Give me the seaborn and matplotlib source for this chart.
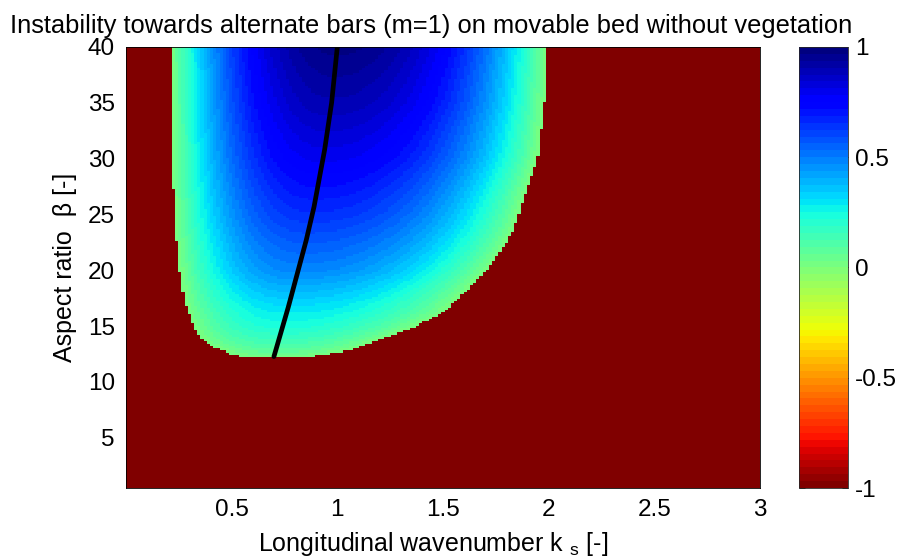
import numpy as np
import matplotlib
matplotlib.use("Agg")
import matplotlib.pyplot as plt
import seaborn as sns

# boundaries of the unstable region (beta -> k)
left_beta = [12.27, 12.45, 13.1, 13.6, 14.7, 17.1, 20.05, 24.5, 30.2, 40.0]
left_k = [0.54, 0.50, 0.42, 0.372, 0.325, 0.278, 0.254, 0.23, 0.22, 0.216]

right_beta = [12.27, 12.65, 13.0, 13.6, 14.7, 16.2, 18.3, 20.3, 22.1, 23.9, 26.3, 30.2, 35.0, 40.0]
right_k = [0.88, 1.0, 1.09, 1.18, 1.34, 1.50, 1.62, 1.72, 1.79, 1.84, 1.88, 1.95, 1.98, 1.99]

# line of maximum growth (black curve)
ridge_beta = [12.27, 13.7, 16.7, 19.8, 22.7, 25.7, 30.8, 35.0, 40.0]
ridge_k = [0.70, 0.722, 0.768, 0.812, 0.853, 0.89, 0.94, 0.973, 1.0]

# normalised growth rate on the ridge
peak_beta = [12.27, 13.0, 14.0, 15.0, 17.0, 20.0, 25.0, 30.0, 35.0, 40.0]
peak_val = [0.02, 0.10, 0.17, 0.23, 0.32, 0.48, 0.65, 0.79, 0.90, 0.98]

beta_min = 12.27
stable_val = -1.0

k = np.linspace(0.0, 3.0, 201)
beta = np.linspace(0.5, 40.0, 198)
K, B = np.meshgrid(k, beta)

kl = np.interp(B, left_beta, left_k)
kr = np.interp(B, right_beta, right_k)
kc = np.interp(B, ridge_beta, ridge_k)
pk = np.interp(B, peak_beta, peak_val)

t = np.where(K < kc, (kc - K) / (kc - kl), (K - kc) / (kr - kc))
Z = pk * (1 - np.clip(t, 0, 1) ** 2.2)
Z[(B < beta_min) | (K < kl) | (K > kr)] = stable_val

sns.set_style("white")
plt.rcParams["font.family"] = ["Liberation Sans", "DejaVu Sans"]
plt.rcParams["mathtext.fontset"] = "custom"
plt.rcParams["mathtext.rm"] = "Liberation Sans"
for key in ["text.color", "axes.labelcolor", "xtick.color", "ytick.color"]:
    plt.rcParams[key] = "black"

fig = plt.figure(figsize=(8.98, 5.59), dpi=100)
ax = fig.add_axes([0.1403, 0.127, 0.706, 0.789])
cax = fig.add_axes([0.8898, 0.127, 0.0546, 0.789])

cmap = plt.get_cmap("jet_r", 64)
mesh = ax.pcolormesh(k, beta, Z, cmap=cmap, vmin=-1, vmax=1, shading="nearest")
sns.lineplot(x=ridge_k, y=ridge_beta, orient="y", color="black", lw=3.4, ax=ax)

ax.set_xlim(0.0, 3.0)
ax.set_ylim(0.5, 40.0)
ax.set_xticks([0.5, 1, 1.5, 2, 2.5, 3])
ax.set_xticklabels(["0.5", "1", "1.5", "2", "2.5", "3"])
ax.set_yticks([5, 10, 15, 20, 25, 30, 35, 40])
ax.tick_params(length=0, labelsize=17.5, pad=8)
for s in ax.spines.values():
    s.set_linewidth(0.6)
    s.set_color("black")

ax.set_title("Instability towards alternate bars (m=1) on movable bed without vegetation",
             fontsize=18.4, pad=10, x=0.482)
ax.set_xlabel("Longitudinal wavenumber k $_{\\mathregular{s}}$ [-]", fontsize=18, labelpad=2)
ax.xaxis.set_label_coords(0.484, -0.095)
ax.set_ylabel("Aspect ratio  β [-]", fontsize=18, labelpad=8)

cb = fig.colorbar(mesh, cax=cax, ticks=[-1, -0.5, 0, 0.5, 1])
cb.ax.set_yticklabels(["-1", "-0.5", "0", "0.5", "1"])
cb.ax.tick_params(direction="in", length=4, left=True, right=True, labelsize=17.5, width=0.6, pad=5)
cb.outline.set_linewidth(0.6)

fig.savefig("out.png", dpi=100)
